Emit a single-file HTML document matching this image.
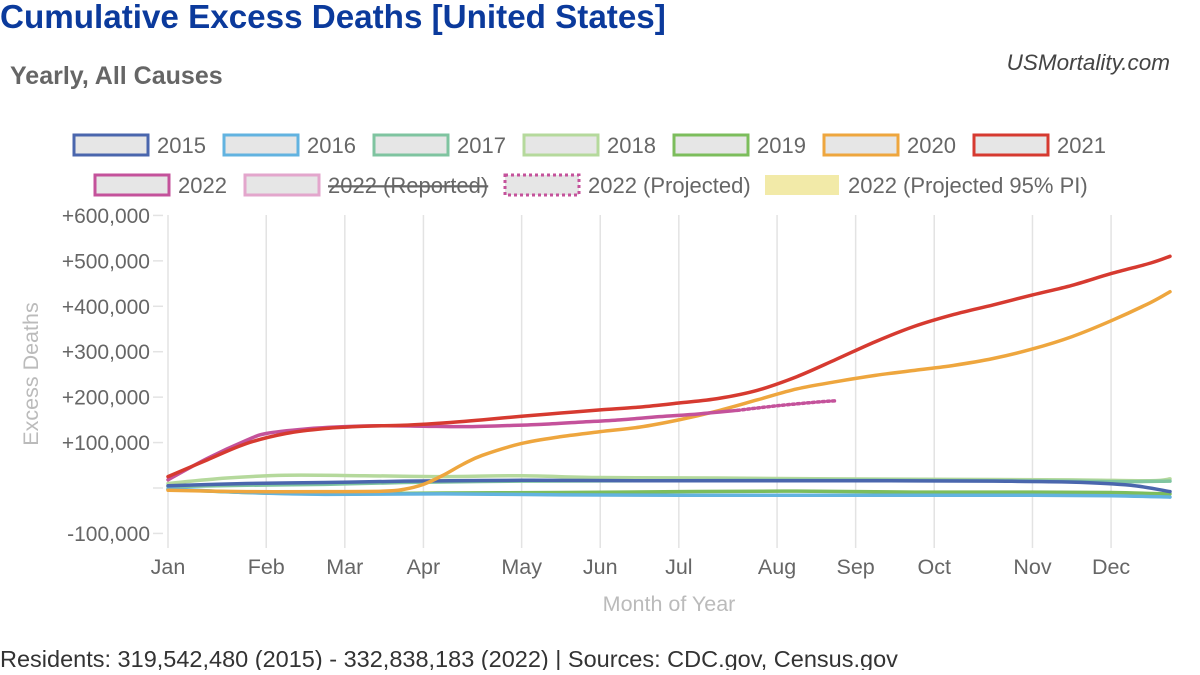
<!DOCTYPE html>
<html><head><meta charset="utf-8">
<style>
body{margin:0;background:#fff;width:1200px;height:670px;overflow:hidden;font-family:"Liberation Sans",Arial,sans-serif;}
</style></head>
<body>
<svg id="chart" width="1200" height="670" xmlns="http://www.w3.org/2000/svg" font-family="Liberation Sans, Arial, sans-serif">
<text x="0" y="28" font-size="33.2" font-weight="bold" fill="#0b3a9c">Cumulative Excess Deaths [United States]</text>
<text x="10" y="84" font-size="25" font-weight="bold" fill="#666">Yearly, All Causes</text>
<text x="1170" y="70" font-size="22.5" font-style="italic" fill="#444" text-anchor="end">USMortality.com</text>
<g id="legend"></g>
<g id="grid"></g>
<g id="axes"></g>
<g id="series"></g>
<text transform="translate(38,374) rotate(-90)" font-size="21.5" fill="#bbb" text-anchor="middle">Excess Deaths</text>
<text x="669" y="611" font-size="21.5" fill="#bbb" text-anchor="middle">Month of Year</text>
<text x="0" y="667" font-size="23.5" fill="#333">Residents: 319,542,480 (2015) - 332,838,183 (2022) | Sources: CDC.gov, Census.gov</text>
</svg>
<script>
const monthLabels=["Jan","Feb","Mar","Apr","May","Jun","Jul","Aug","Sep","Oct","Nov","Dec"];
const monthWeeks=[1,6,10,14,19,23,27,32,36,40,45,49];
const yTicks=[600000,500000,400000,300000,200000,100000,0,-100000];
const s2015=[[1,5000],[5,10000],[9,12000],[13,15000],[19,17000],[25,16000],[31,16000],[37,16000],[43,15000],[47,13000],[50,6000],[52,-8000]];
const s2016=[[1,-2000],[5,-10000],[9,-14000],[15,-13000],[21,-15000],[27,-16000],[33,-16000],[39,-16000],[45,-16000],[49,-17000],[52,-20000]];
const s2017=[[1,3000],[5,6000],[9,8000],[13,12000],[19,15000],[25,16000],[31,17000],[37,17000],[43,16000],[49,14000],[52,15000]];
const s2018=[[1,10000],[4,22000],[7,28000],[11,27000],[15,25000],[19,27000],[23,23000],[29,22000],[35,20000],[41,19000],[47,18000],[51,16000],[52,20000]];
const s2019=[[1,-3000],[5,-10000],[9,-13000],[15,-11000],[21,-10000],[27,-8000],[33,-7000],[39,-9000],[45,-9000],[49,-10000],[52,-13000]];
const s2020=[[1,-5000],[5,-8000],[9,-8000],[12,-7000],[13,-3000],[14,8000],[15,28000],[16,52000],[17,72000],[19,98000],[21,113000],[23,124000],[25,134000],[27,150000],[29,170000],[31,194000],[33,218000],[35,234000],[37,248000],[39,259000],[41,270000],[43,285000],[45,306000],[47,333000],[49,368000],[51,408000],[52,432000]];
const s2021=[[1,25000],[3,62000],[5,98000],[7,120000],[9,131000],[11,136000],[13,138000],[15,143000],[17,150000],[19,158000],[21,165000],[23,172000],[25,178000],[27,187000],[29,197000],[31,215000],[33,245000],[35,283000],[37,322000],[39,356000],[41,382000],[43,403000],[45,425000],[47,446000],[49,472000],[51,495000],[52,510000]];
const s2022=[[1,18000],[3,65000],[5,105000],[6,120000],[8,130000],[10,135000],[12,137000],[14,136000],[16,135000],[18,137000],[20,140000],[22,145000],[24,150000],[26,157000],[28,163000],[30,171000]];
const s2022p=[[30,171000],[32,181000],[34,189000],[35,192000]];
const X0=168,X1=1170,Y0=488,PER=45.43/100000;
const xS=w=>X0+(w-1)*(X1-X0)/51;
const yS=v=>Y0-v*PER;
const NS="http://www.w3.org/2000/svg";
function mk(t,a,p){const e=document.createElementNS(NS,t);for(const k in a)e.setAttribute(k,a[k]);p.appendChild(e);return e;}
const grid=document.getElementById('grid'),axes=document.getElementById('axes');
monthWeeks.forEach((w,i)=>{
  const l=mk('line',{x1:xS(w),x2:xS(w),y1:215,y2:548,stroke:'#e3e3e3','stroke-width':1.5},grid);
  
  
  const t=mk('text',{x:xS(w),y:574,'font-size':21.5,fill:'#666','text-anchor':'middle'},axes);
  t.textContent=monthLabels[i];
  
  
});
yTicks.forEach(v=>{
  const y=yS(v);
  const tk=mk('line',{x1:153,x2:163,y1:y,y2:y,stroke:'#e3e3e3','stroke-width':1.5},axes);
  
  
  if(v!==0){
    const t=mk('text',{x:150,y:y+7.5,'font-size':21,fill:'#666','text-anchor':'end'},axes);
    t.textContent=(v>0?'+':'-')+Math.abs(v).toLocaleString('en-US');
    
    
  }
});
function pathOf(pts){
  const P=pts.map(p=>[xS(p[0]),yS(p[1])]);
  let d='M'+P[0][0]+','+P[0][1];
  for(let i=0;i<P.length-1;i++){
    const p0=P[i-1]||P[i],p1=P[i],p2=P[i+1],p3=P[i+2]||p2;
    const c1=[p1[0]+(p2[0]-p0[0])/6,p1[1]+(p2[1]-p0[1])/6];
    const c2=[p2[0]-(p3[0]-p1[0])/6,p2[1]-(p3[1]-p1[1])/6];
    d+=`C${c1[0]},${c1[1]} ${c2[0]},${c2[1]} ${p2[0]},${p2[1]}`;
  }
  return d;
}
const ser=document.getElementById('series');
const list=[[s2018,'#b5d99c','line-2018',''],[s2017,'#7fc4a0','line-2017',''],[s2019,'#7cbd5c','line-2019',''],[s2016,'#62b3e0','line-2016',''],[s2015,'#4a66ad','line-2015',''],[s2020,'#eea63e','line-2020',''],[s2022,'#c4529b','line-2022',''],[s2022p,'#c4529b','line-2022-projected','2 3'],[s2021,'#d63a30','line-2021','']];
list.forEach(s=>{
  const p=mk('path',{d:pathOf(s[0]),fill:'none',stroke:s[1],'stroke-width':3.5,'stroke-linecap':'round'},ser);
  if(s[3])p.setAttribute('stroke-dasharray',s[3]);
  
  
});
const leg=document.getElementById('legend');
const items=[[74,135,'#4a66ad','2015',''],[224,135,'#62b3e0','2016',''],[374,135,'#7fc4a0','2017',''],[524,135,'#b5d99c','2018',''],[674,135,'#7cbd5c','2019',''],[824,135,'#eea63e','2020',''],[974,135,'#d63a30','2021',''],[95,175,'#c4529b','2022',''],[245,175,'#e3a6cc','2022 (Reported)','strike'],[505,175,'#c4529b','2022 (Projected)','dot'],[765,175,'#f2eaa8','2022 (Projected 95% PI)','fill']];
items.forEach(it=>{
  const g=mk('g',{},leg);
  
  
  const r=mk('rect',{x:it[0],y:it[1],width:74,height:20,fill:it[4]==='fill'?it[2]:'#e6e6e6',stroke:it[4]==='fill'?'none':it[2],'stroke-width':3},g);
  if(it[4]==='dot')r.setAttribute('stroke-dasharray','3 3');
  const t=mk('text',{x:it[0]+83,y:it[1]+18,'font-size':22,fill:'#666'},g);
  t.textContent=it[3];
  if(it[4]==='strike')t.setAttribute('text-decoration','line-through');
});
</script>
</body></html>
